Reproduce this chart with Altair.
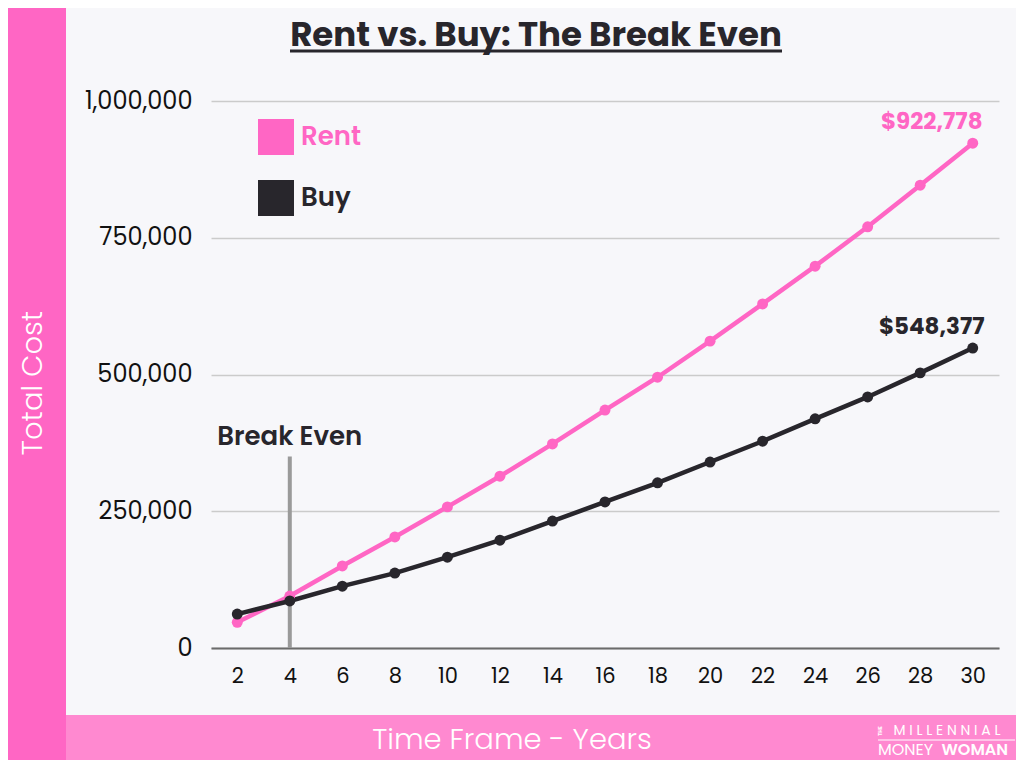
import altair as alt
import pandas as pd

years = [2, 4, 6, 8, 10, 12, 14, 16, 18, 20, 22, 24, 26, 28, 30]
rent = [47000, 95000, 150000, 203000, 258000, 314000, 373000, 435000,
        495000, 561000, 629000, 698000, 770000, 846000, 922778]
buy = [62000, 86000, 113000, 137000, 166000, 197000, 232000, 267000,
       302000, 340000, 378000, 419000, 459000, 503000, 548377]
series_names = ["Rent", "Buy"]
series_colors = ["#ff66c4", "#28262c"]
y_ticks = [0, 250000, 500000, 750000, 1000000]
break_even_year = [4]
break_even_top = [350000]

FONT = "Poppins, Montserrat, Inter, sans-serif"

rows = []
for y, r, b in zip(years, rent, buy):
    rows.append({"year": y, "series": "Rent", "cost": r})
    rows.append({"year": y, "series": "Buy", "cost": b})
df = pd.DataFrame(rows)
last = df[df["year"] == years[-1]].copy()
last["label"] = last["cost"].map(lambda v: "${:,}".format(v))

one = pd.DataFrame({"a": [0]})

xscale = alt.Scale(domain=[1, 31], nice=False, zero=False)
yscale = alt.Scale(domain=[0, 1000000], nice=False)
color = alt.Color(
    "series:N",
    scale=alt.Scale(domain=series_names, range=series_colors),
    legend=alt.Legend(
        title=None, orient="none", legendX=47, legendY=18, padding=0,
        symbolType="square", symbolSize=1296, symbolStrokeWidth=0,
        symbolOpacity=1,
        labelFont=FONT, labelFontSize=26, labelFontWeight=600,
        labelOffset=7, rowPadding=25,
        labelColor=alt.ExprRef("datum.label == 'Rent' ? '#ff66c4' : '#28262c'"),
    ),
)

# decorative bands
left_band = alt.Chart(one).mark_rect(color="#ff66c4").encode(
    x=alt.value(-211), x2=alt.value(-145), y=alt.value(-101), y2=alt.value(670)
)
bottom_band = alt.Chart(one).mark_rect(color="#ff89d0").encode(
    x=alt.value(-145), x2=alt.value(815), y=alt.value(614), y2=alt.value(670)
)

lines = alt.Chart(df).mark_line(
    strokeWidth=4.5, point=alt.OverlayMarkDef(size=120, filled=True, opacity=1)
).encode(
    x=alt.X("year:Q", scale=xscale,
            axis=alt.Axis(values=years, title=None, grid=False, ticks=False,
                          domainColor="#6b6b6b", domainWidth=2,
                          labelFont=FONT, labelFontSize=21, labelColor="#111111",
                          labelPadding=17)),
    y=alt.Y("cost:Q", scale=yscale,
            axis=alt.Axis(values=y_ticks, format=",d", title=None, domain=False,
                          ticks=False, gridColor="#cbcbcb", gridWidth=1.5,
                          labelFont=FONT, labelFontSize=24, labelColor="#111111",
                          labelPadding=19)),
    color=color,
    order="year:Q",
)

be = pd.DataFrame({"year": break_even_year, "top": break_even_top, "zero": [0]})
be_rule = alt.Chart(be).mark_rule(color="#9a9a9a", strokeWidth=4).encode(
    x=alt.X("year:Q", scale=xscale), y=alt.Y("zero:Q", scale=yscale), y2="top:Q"
)
be_text = alt.Chart(be).mark_text(
    text="Break Even", font=FONT, fontSize=26, fontWeight=600, color="#28262c",
    align="center", baseline="middle", dy=-20
).encode(x=alt.X("year:Q", scale=xscale), y=alt.Y("top:Q", scale=yscale))

end_labels = alt.Chart(last).mark_text(
    font=FONT, fontSize=23, fontWeight=700, align="center", baseline="middle",
    dx=-41, dy=-21
).encode(
    x=alt.X("year:Q", scale=xscale), y=alt.Y("cost:Q", scale=yscale),
    text="label:N",
    color=alt.Color("series:N", scale=alt.Scale(domain=series_names, range=series_colors), legend=None),
)

title = alt.Chart(one).mark_text(
    text="Rent vs. Buy: The Break Even", font=FONT, fontSize=34, fontWeight=700,
    color="#28262c", align="center", baseline="middle"
).encode(x=alt.value(325), y=alt.value(-65))
underline = alt.Chart(one).mark_rule(color="#28262c", strokeWidth=3).encode(
    x=alt.value(79), x2=alt.value(571), y=alt.value(-50)
)

ytitle = alt.Chart(one).mark_text(
    text="Total Cost", font=FONT, fontSize=29, fontWeight=300, color="white",
    angle=270, align="center", baseline="middle"
).encode(x=alt.value(-178), y=alt.value(282))
xtitle = alt.Chart(one).mark_text(
    text="Time Frame - Years", font=FONT, fontSize=29, fontWeight=300, color="white",
    align="center", baseline="middle"
).encode(x=alt.value(301), y=alt.value(639))

logo1 = alt.Chart(one).mark_text(
    text="M I L L E N N I A L", font=FONT, fontSize=14, color="white",
    align="center", baseline="middle"
).encode(x=alt.value(736), y=alt.value(630))
logo_the = alt.Chart(one).mark_text(
    text="THE", font=FONT, fontSize=5, fontWeight=700, color="white",
    angle=270, align="center", baseline="middle"
).encode(x=alt.value(669), y=alt.value(630))
logo_line = alt.Chart(one).mark_rule(color="white", strokeWidth=1).encode(
    x=alt.value(667), x2=alt.value(804), y=alt.value(639)
)
logo2a = alt.Chart(one).mark_text(
    text="MONEY", font=FONT, fontSize=16, color="white",
    align="left", baseline="middle"
).encode(x=alt.value(667), y=alt.value(649))
logo2b = alt.Chart(one).mark_text(
    text="WOMAN", font=FONT, fontSize=16, fontWeight=600, color="white",
    align="right", baseline="middle"
).encode(x=alt.value(797), y=alt.value(649))

chart = alt.layer(
    left_band, bottom_band, be_rule, lines, be_text, end_labels,
    title, underline, ytitle, xtitle, logo1, logo_the, logo_line, logo2a, logo2b
).properties(
    width=788, height=547,
    autosize=alt.AutoSizeParams(type="none"),
    padding={"left": 203, "top": 93, "right": 17, "bottom": 112},
    background="#f7f7fa",
).configure_view(stroke=None)

chart.save("out.html", embed_options={"renderer": "svg", "actions": False})
